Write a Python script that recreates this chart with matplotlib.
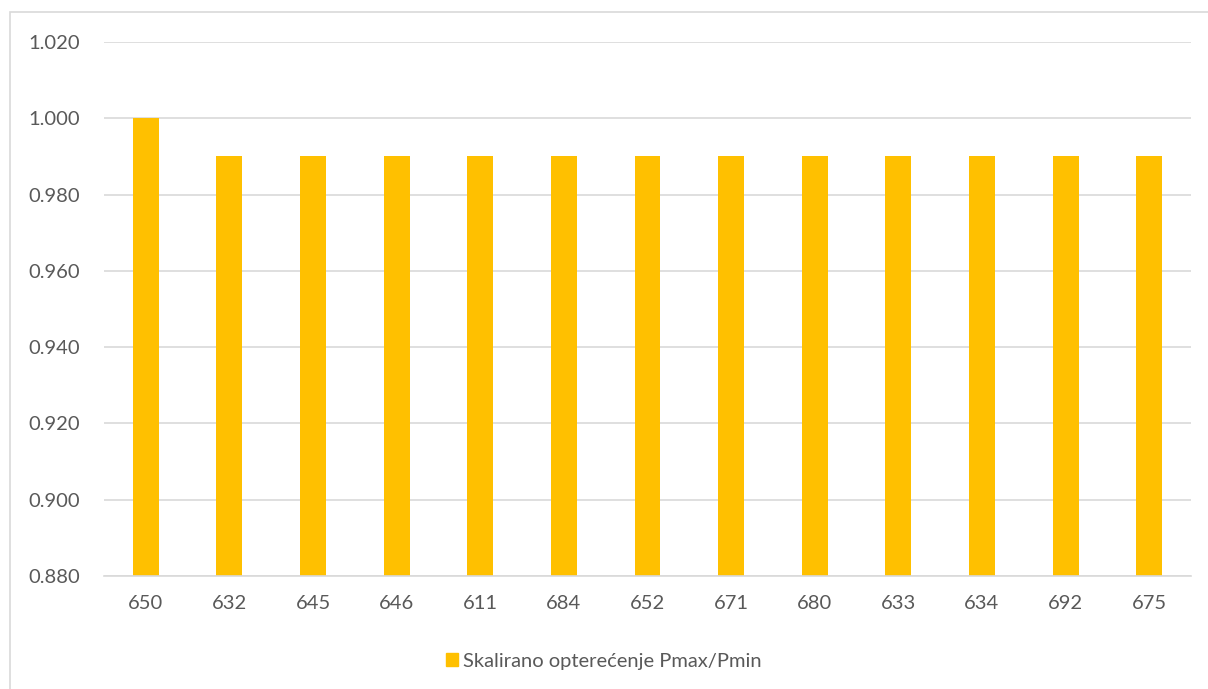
import matplotlib
matplotlib.use('Agg')
import matplotlib.pyplot as plt
import numpy as np
from matplotlib.patches import Rectangle

categories = ['650', '632', '645', '646', '611', '684', '652', '671', '680', '633', '634', '692', '675']
values = [1.000, 0.990, 0.990, 0.990, 0.990, 0.990, 0.990, 0.990, 0.990, 0.990, 0.990, 0.990, 0.990]
yticks = [0.880, 0.900, 0.920, 0.940, 0.960, 0.980, 1.000, 1.020]
series_name = 'Skalirano opterećenje Pmax/Pmin'

plt.rcParams['font.family'] = ['Lato', 'DejaVu Sans']
text_color = '#595959'
bar_color = '#FFC000'
grid_color = '#D9D9D9'

W, H = 1208, 689
fig = plt.figure(figsize=(W / 100, H / 100), dpi=100)

# outer chart border
fig.add_artist(Rectangle((10 / W, -0.1), 1.2, 1 - 12 / H + 0.1, transform=fig.transFigure,
                         fill=False, edgecolor=grid_color, linewidth=1.2))

ax = fig.add_axes([104 / W, 1 - 576 / H, (1191 - 104) / W, (576 - 42) / H])
x = np.arange(len(categories))
ax.bar(x, values, width=0.31, color=bar_color, zorder=2)

ax.set_xlim(-0.5, len(categories) - 0.5)
ax.set_ylim(yticks[0], yticks[-1])
ax.set_yticks(yticks)
ax.set_yticklabels([f'{v:.3f}' for v in yticks])
ax.set_xticks(x)
ax.set_xticklabels(categories)
ax.grid(axis='y', color=grid_color, linewidth=1.2, zorder=0)
for s in ['top', 'right', 'left']:
    ax.spines[s].set_visible(False)
ax.spines['bottom'].set_color(grid_color)
ax.spines['bottom'].set_linewidth(1.2)
ax.tick_params(axis='both', length=0, labelsize=14.5, colors=text_color)
ax.tick_params(axis='x', pad=14)
ax.tick_params(axis='y', pad=17)

handle = Rectangle((0, 0), 1, 1, color=bar_color)
fig.legend([handle], [series_name], loc='center', bbox_to_anchor=(0.5, 1 - 661 / H),
           frameon=False, fontsize=14.5, labelcolor=text_color, handlelength=0.6,
           handleheight=0.6, handletextpad=0.25)

fig.savefig('out.png', dpi=100, facecolor='white')
